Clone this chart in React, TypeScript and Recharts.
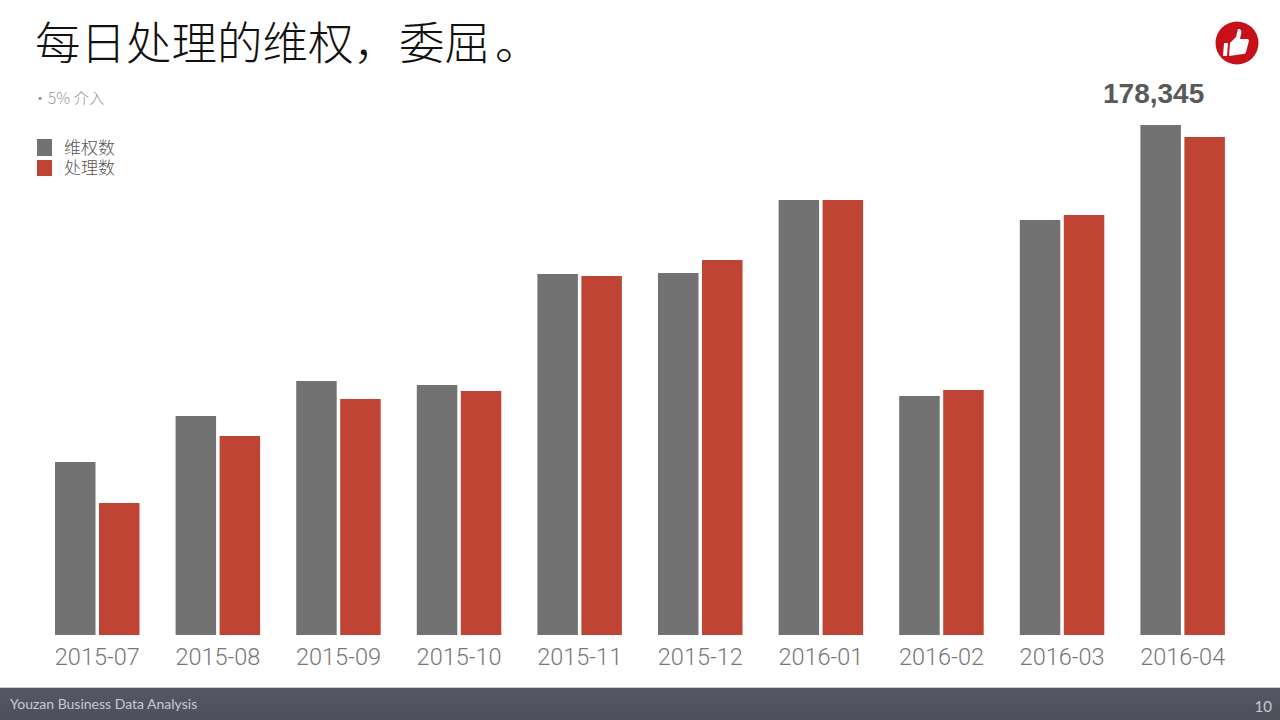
import { BarChart, Bar, XAxis, YAxis, LabelList, Legend } from 'recharts';

const months = ['2015-07', '2015-08', '2015-09', '2015-10', '2015-11', '2015-12', '2016-01', '2016-02', '2016-03', '2016-04'];
const complaints = [60500, 76600, 88800, 87400, 126200, 126600, 152100, 83600, 145100, 178345];
const handled = [46200, 69600, 82500, 85300, 125500, 131100, 152100, 85700, 146900, 174150];

const data = months.map((m, i) => ({ month: m, 维权数: complaints[i], 处理数: handled[i] }));

const GRAY = '#737273';
const RED = '#c04433';
const CJK = '"Noto Sans CJK SC", "Noto Sans", sans-serif';

function LegendBox({ payload }: any) {
  return (
    <div style={{ width: 120 }}>
      {payload.map((p: any) => (
        <div key={p.value} style={{ display: 'flex', alignItems: 'center', height: 20.5 }}>
          <span style={{ width: 15, height: 16.500, background: p.color, marginRight: 12 }} />
          <span style={{ fontFamily: CJK, fontSize: 17, fontWeight: 300, color: '#555', lineHeight: '20px', marginTop: -1 }}>{p.value}</span>
        </div>
      ))}
    </div>
  );
}

// only the last bar gets a number
function PeakLabel({ x, y, width, value, index }: any) {
  if (index !== months.length - 1) return null;
  return (
    <text x={x + width / 2 - 7} y={y - 22} textAnchor="middle" fontFamily='"Liberation Sans", Arial, sans-serif' fontWeight={700} fontSize={28} fill="#58595b">
      {Number(value).toLocaleString('en-US')}
    </text>
  );
}

export default function App() {
  return (
    <div style={{ position: 'absolute', left: 0, top: 0, width: 1280, height: 720, background: '#fff', overflow: 'hidden' }}>
      <div style={{ position: 'absolute', left: 35, top: 8, fontFamily: CJK, fontSize: 45.500, fontWeight: 300, lineHeight: '64px', color: '#111', whiteSpace: 'nowrap' }}>
        每日处理的维权，委屈<span style={{ marginLeft: 5 }}>。</span>
      </div>
      <div style={{ position: 'absolute', left: 33, top: 87, fontFamily: CJK, fontSize: 14, lineHeight: '20px', color: '#888' }}>•</div>
      <div style={{ position: 'absolute', left: 48, top: 87, fontFamily: CJK, fontSize: 15.500, fontWeight: 300, lineHeight: '20px', color: '#999', whiteSpace: 'pre' }}>
        5% 介入
      </div>

      <BarChart width={1280} height={720} data={data} margin={{ top: 125, right: 37, bottom: 45, left: 37 }} barSize={40.5} barGap={3.5}>
        <XAxis
          dataKey="month"
          height={40}
          axisLine={false}
          tickLine={false}
          interval={0}
          tickMargin={7}
          tick={{ fontFamily: 'Roboto, sans-serif', fontWeight: 300, fontSize: 23.5, fill: '#777' }}
        />
        <YAxis hide domain={[0, 178345]} />
        {/* zero width so the legend does not push the plot to the right */}
        <Legend content={<LegendBox />} itemSorter={null} layout="vertical" align="left" verticalAlign="top" wrapperStyle={{ left: 37, top: 137, width: 0 }} />
        <Bar dataKey="维权数" fill={GRAY} isAnimationActive={false}>
          <LabelList dataKey="维权数" content={<PeakLabel />} />
        </Bar>
        <Bar dataKey="处理数" fill={RED} isAnimationActive={false} />
      </BarChart>

      <svg style={{ position: 'absolute', left: 1215, top: 21 }} width={44} height={44} viewBox="0 0 44 44">
        <circle cx={22} cy={22} r={21.5} fill="#c8101a" />
        <path d="M9 22h4l-1 13H8z M15 22l6-6 2-8c3 0 4 2 3 5l-1 5h7c2 0 2.500 2 1.500 3.500L31 31c-.5 1.500-1.500 2-3 2l-14 2z" fill="#fff" />
      </svg>

      <div style={{ position: 'absolute', left: 0, top: 687, width: 1280, height: 33, background: 'linear-gradient(#555864, #4d505c)', borderTop: '1px solid #c9c9cc', boxSizing: 'border-box' }} />
      <div style={{ position: 'absolute', left: 10, top: 695, fontFamily: 'Lato, sans-serif', fontSize: 14, lineHeight: '18px', color: '#c8cad0' }}>Youzan Business Data Analysis</div>
      <div style={{ position: 'absolute', right: 8, top: 696, fontFamily: 'Lato, sans-serif', fontSize: 15, lineHeight: '20px', color: '#c8cad0' }}>10</div>
    </div>
  );
}
